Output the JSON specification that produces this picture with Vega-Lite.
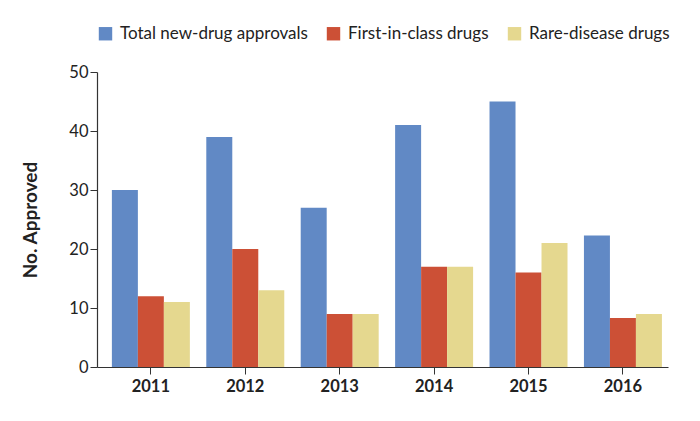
{
  "$schema": "https://vega.github.io/schema/vega-lite/v6.json",
  "width": 571,
  "height": 295,
  "autosize": {"type": "none"},
  "padding": {"left": 97, "top": 72, "right": 32, "bottom": 54},
  "background": "white",
  "config": {
    "view": {"stroke": null},
    "font": "Lato",
    "axis": {"labelFont": "Lato", "titleFont": "Lato", "domainColor": "#333333", "tickColor": "#333333", "labelColor": "#222222", "titleColor": "#222222", "grid": false}
  },
  "data": {
    "values": [
      {"year": "2011", "series": "Total new-drug approvals", "value": 30},
      {"year": "2011", "series": "First-in-class drugs", "value": 12},
      {"year": "2011", "series": "Rare-disease drugs", "value": 11},
      {"year": "2012", "series": "Total new-drug approvals", "value": 39},
      {"year": "2012", "series": "First-in-class drugs", "value": 20},
      {"year": "2012", "series": "Rare-disease drugs", "value": 13},
      {"year": "2013", "series": "Total new-drug approvals", "value": 27},
      {"year": "2013", "series": "First-in-class drugs", "value": 9},
      {"year": "2013", "series": "Rare-disease drugs", "value": 9},
      {"year": "2014", "series": "Total new-drug approvals", "value": 41},
      {"year": "2014", "series": "First-in-class drugs", "value": 17},
      {"year": "2014", "series": "Rare-disease drugs", "value": 17},
      {"year": "2015", "series": "Total new-drug approvals", "value": 45},
      {"year": "2015", "series": "First-in-class drugs", "value": 16},
      {"year": "2015", "series": "Rare-disease drugs", "value": 21},
      {"year": "2016", "series": "Total new-drug approvals", "value": 22.3},
      {"year": "2016", "series": "First-in-class drugs", "value": 8.3},
      {"year": "2016", "series": "Rare-disease drugs", "value": 9.0}
    ]
  },
  "mark": {"type": "bar"},
  "encoding": {
    "x": {
      "field": "year",
      "type": "nominal",
      "scale": {"paddingInner": 0.174, "paddingOuter": 0.111, "align": 0.71},
      "axis": {"title": null, "labelAngle": 0, "labelFontSize": 16.5, "labelFontWeight": "bold", "tickSize": 7, "labelPadding": 4, "domainWidth": 1.2}
    },
    "xOffset": {
      "field": "series",
      "type": "nominal",
      "sort": ["Total new-drug approvals", "First-in-class drugs", "Rare-disease drugs"],
      "scale": {"paddingInner": 0, "paddingOuter": 0}
    },
    "y": {
      "field": "value",
      "type": "quantitative",
      "scale": {"domain": [0, 50], "nice": false},
      "axis": {"title": "No. Approved", "values": [0, 10, 20, 30, 40, 50], "labelFontSize": 16.5, "tickSize": 7, "labelPadding": 2, "titleFontSize": 19, "titleFontWeight": "bold", "titlePadding": 28, "domainWidth": 1.2}
    },
    "color": {
      "field": "series",
      "type": "nominal",
      "sort": ["Total new-drug approvals", "First-in-class drugs", "Rare-disease drugs"],
      "scale": {"domain": ["Total new-drug approvals", "First-in-class drugs", "Rare-disease drugs"], "range": ["#6189c5", "#cc5036", "#e5d88f"]},
      "legend": {
        "title": null,
        "orient": "none",
        "direction": "horizontal",
        "legendX": 0,
        "legendY": -47,
        "symbolType": "square",
        "symbolSize": 180,
        "symbolStrokeWidth": 0,
        "symbolOpacity": 1,
        "labelFontSize": 17,
        "labelColor": "#222222",
        "labelFont": "Lato",
        "labelOffset": 6,
        "labelLimit": 400,
        "columnPadding": 17
      }
    }
  }
}
